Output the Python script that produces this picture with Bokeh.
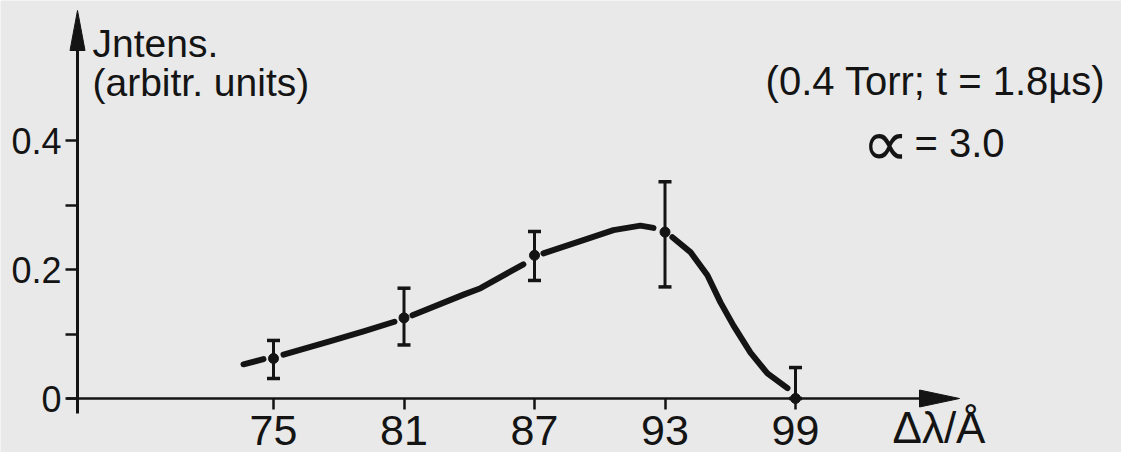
from bokeh.plotting import figure
from bokeh.models import (LinearAxis, FixedTicker, CustomJSTickFormatter, Whisker,
                          TeeHead, ColumnDataSource, Label)
from bokeh.embed import file_html
from bokeh.resources import INLINE

# ---------------- data ----------------
wavelength_shift = [75, 81, 87, 93, 99]            # Δλ / Å
intensity = [0.062, 0.125, 0.222, 0.258, 0.0]      # arbitrary units
err_upper = [0.090, 0.171, 0.259, 0.336, 0.048]
err_lower = [0.031, 0.083, 0.183, 0.173, 0.0]

# hand-drawn fit curve (drawn with breaks around each point)
curve_x = [[73.62, 74.54],
           [75.46, 77.62, 79.14, 80.56],
           [81.39, 83.74, 84.52, 85.90, 86.49],
           [87.41, 89.11, 90.63, 91.87, 92.47],
           [93.34, 94.17, 94.95, 95.55, 96.15, 96.93, 97.71, 98.63]]
curve_y = [[0.053, 0.061],
           [0.068, 0.089, 0.104, 0.119],
           [0.129, 0.161, 0.171, 0.197, 0.208],
           [0.225, 0.244, 0.261, 0.268, 0.2645],
           [0.250, 0.227, 0.191, 0.149, 0.113, 0.071, 0.039, 0.016]]

x_ticks = [75, 81, 87, 93, 99]
y_ticks = [0.0, 0.2, 0.4]
y_minor_ticks = [0.1, 0.3]

# ---------------- layout helpers (pixel -> data) ----------------
W, H = 1121, 452
PX_PER_X = 21.75
PX_PER_Y = 645.0
X0 = 75 - 273 / PX_PER_X
Y_ZERO_PX = 398
LABEL_SHIFT = 15  # empirical offset of Label baselines


def X(px):
    return X0 + px / PX_PER_X


def Y(py):
    return (Y_ZERO_PX - py) / PX_PER_Y


INK = "#141414"
PAPER = "#e9e9e9"
FONT = "Liberation Sans"

p = figure(width=W, height=H, x_range=(X(0), X(W)), y_range=(Y(H), Y(0)),
           min_border=0, toolbar_location=None, output_backend="svg",
           x_axis_type=None, y_axis_type=None,
           background_fill_color=PAPER, border_fill_color=PAPER,
           outline_line_color=None)
p.xgrid.visible = False
p.ygrid.visible = False

# ---------------- axes ----------------
yax = LinearAxis(fixed_location=X(77),
                 ticker=FixedTicker(ticks=y_ticks, minor_ticks=y_minor_ticks),
                 formatter=CustomJSTickFormatter(code="return tick == 0 ? '0' : tick.toFixed(1);"))
yax.axis_line_color = None
yax.major_tick_out = 12
yax.major_tick_in = 0
yax.minor_tick_out = 12
yax.minor_tick_in = 0
yax.major_tick_line_width = 2.5
yax.minor_tick_line_width = 2.5
yax.major_tick_line_color = INK
yax.minor_tick_line_color = INK
yax.major_label_text_font = FONT
yax.major_label_text_font_size = "36px"
yax.major_label_text_color = INK
yax.major_label_standoff = 4
p.add_layout(yax, "left")

xax = LinearAxis(fixed_location=0, ticker=FixedTicker(ticks=x_ticks, minor_ticks=[]))
xax.axis_line_color = None
xax.major_tick_out = 11
xax.major_tick_in = 0
xax.major_tick_line_width = 2.5
xax.major_tick_line_color = INK
xax.major_label_text_font = FONT
xax.major_label_text_font_size = "43px"
xax.major_label_text_color = INK
xax.major_label_standoff = 6
p.add_layout(xax, "below")

# axis shafts and arrow heads
p.segment(x0=[X(77)], y0=[Y(413)], x1=[X(77)], y1=[Y(45)], line_color=INK, line_width=3)
p.patch(x=[X(77) - 7.5 / PX_PER_X, X(77), X(77) + 7.5 / PX_PER_X],
        y=[Y(50), Y(10), Y(50)], fill_color=INK, line_color=INK, line_width=1)
p.segment(x0=[X(66)], y0=[0], x1=[X(925)], y1=[0], line_color=INK, line_width=2.5)
p.patch(x=[X(919), X(959), X(919)],
        y=[8.5 / PX_PER_Y, 0, -8.5 / PX_PER_Y], fill_color=INK, line_color=INK, line_width=1)

# ---------------- data marks ----------------
p.multi_line(xs=curve_x, ys=curve_y, line_color=INK, line_width=6, line_cap="round",
             line_join="round")

src = ColumnDataSource(dict(x=wavelength_shift, y=intensity, upper=err_upper, lower=err_lower))
p.add_layout(Whisker(source=src, base="x", upper="upper", lower="lower", dimension="height",
                     line_color=INK, line_width=3,
                     upper_head=TeeHead(size=13, line_width=3.5, line_color=INK),
                     lower_head=TeeHead(size=13, line_width=3.5, line_color=INK)))
p.scatter("x", "y", source=src, size=10, color=INK)

# ---------------- texts ----------------
def label(text, px, py, size, align="left"):
    p.add_layout(Label(x=X(px), y=Y(py - LABEL_SHIFT), text=text, text_font=FONT,
                       text_font_size=size, text_color=INK, text_align=align,
                       text_baseline="alphabetic"))


label("Jntens.", 92, 58, "39px")
label("(arbitr. units)", 92, 97, "39px")
label("(0.4 Torr; t = 1.8\u00b5s)", 935, 95, "40px", "center")
label("\u221d", 861, 157, "66px")
label("= 3.0", 914, 157, "40px")
label("\u0394\u03bb/\u00c5", 892, 442, "44px")

open("out.html", "w").write(file_html(p, INLINE))
